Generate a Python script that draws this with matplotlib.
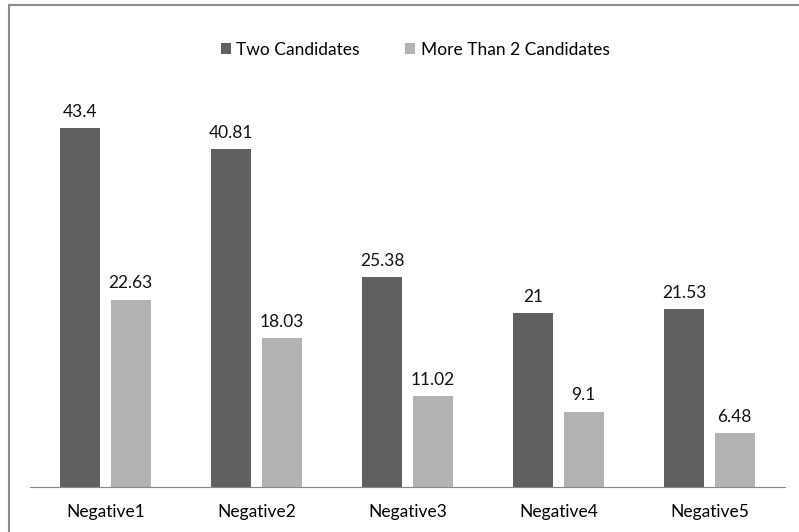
import matplotlib.pyplot as plt
import matplotlib.patches as mpatches
import numpy as np

categories = ["Negative1", "Negative2", "Negative3", "Negative4", "Negative5"]
two_candidates = [43.4, 40.81, 25.38, 21, 21.53]
more_than_two = [22.63, 18.03, 11.02, 9.1, 6.48]
series_names = ["Two Candidates", "More Than 2 Candidates"]

plt.rcParams["font.family"] = ["Lato", "DejaVu Sans"]

W, H = 799, 532
fig = plt.figure(figsize=(W / 100, H / 100), dpi=100)
ax = fig.add_axes([30 / W, 1 - 487 / H, 755 / W, 397 / H])

x = np.arange(len(categories))
width = 0.265
off = 0.167
dark = "#606060"
light = "#b2b2b2"
fs = 12.5

b1 = ax.bar(x - off, two_candidates, width, color=dark, label=series_names[0])
b2 = ax.bar(x + off, more_than_two, width, color=light, label=series_names[1])

for bars, vals in ((b1, two_candidates), (b2, more_than_two)):
    for rect, v in zip(bars, vals):
        ax.annotate(f"{v:g}", (rect.get_x() + rect.get_width() / 2, v),
                    xytext=(0, 6), textcoords="offset points",
                    ha="center", va="bottom", fontsize=fs, color="#111111")

ax.set_xlim(-0.5, len(categories) - 0.5)
ax.set_ylim(0, 48)
ax.set_xticks(x)
ax.set_xticklabels(categories, fontsize=fs)
ax.tick_params(axis="x", length=0, pad=12)
ax.set_yticks([])
for s in ("top", "right", "left"):
    ax.spines[s].set_visible(False)
ax.spines["bottom"].set_color("#888888")

fig.legend(handles=[b1, b2], loc="center", bbox_to_anchor=(415 / W, 1 - 50 / H),
           ncol=2, frameon=False, fontsize=fs, handlelength=0.6,
           handleheight=0.6, handletextpad=0.3, columnspacing=2.6)

fig.patches.append(mpatches.Rectangle((8.5 / W, -0.05), 1.2, 1 - 4.5 / H + 0.05,
                                      transform=fig.transFigure, fill=False,
                                      edgecolor="#8c8c8c", linewidth=1.5))

fig.savefig("out.png", dpi=100)
